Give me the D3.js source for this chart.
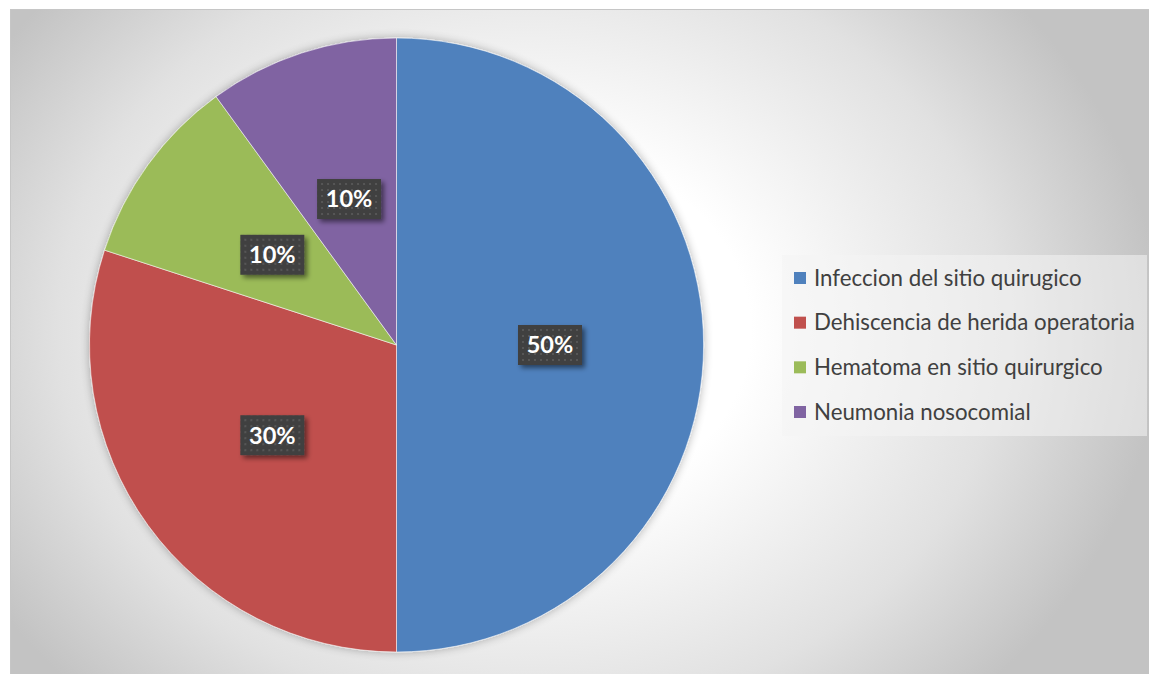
<!DOCTYPE html>
<html>
<head>
<meta charset="utf-8">
<script src="https://cdn.jsdelivr.net/npm/d3@7"></script>
<style>
  html, body { margin: 0; padding: 0; background: #fff; }
  svg { display: block; }
</style>
</head>
<body>
<svg id="chart" width="1149" height="674"></svg>
<script>
// Complications after surgery, share of cases
const categories = [
  "Infeccion del sitio quirugico",
  "Dehiscencia de herida operatoria",
  "Hematoma en sitio quirurgico",
  "Neumonia nosocomial"
];
const values = [50, 30, 10, 10];
const colors = ["#4f81bd", "#c0504d", "#9bbb59", "#8064a2"];

const svg = d3.select("#chart");
const W = 1149, H = 674;

const defs = svg.append("defs");

// Chart area background: light radial fill fading to grey at the edges
const gcx = 530, gcy = 330;
const bg = defs.append("radialGradient")
  .attr("id", "bgGrad")
  .attr("gradientUnits", "userSpaceOnUse")
  .attr("cx", gcx).attr("cy", gcy).attr("r", 630)
  .attr("gradientTransform", `translate(${gcx},${gcy}) scale(1,0.82) translate(${-gcx},${-gcy})`);
[[0, "#ffffff"], [0.35, "#ffffff"], [0.75, "#e1e1e1"], [1, "#c3c3c3"]]
  .forEach(([o, c]) => bg.append("stop").attr("offset", o).attr("stop-color", c));

// Soft shadow around the pie
const pieShadow = defs.append("filter").attr("id", "pieShadow")
  .attr("x", "-10%").attr("y", "-10%").attr("width", "120%").attr("height", "120%");
pieShadow.append("feGaussianBlur").attr("in", "SourceAlpha").attr("stdDeviation", 5).attr("result", "b");
pieShadow.append("feComponentTransfer").attr("in", "b").attr("result", "s")
  .append("feFuncA").attr("type", "linear").attr("slope", 0.3);
const pm = pieShadow.append("feMerge");
pm.append("feMergeNode").attr("in", "s");
pm.append("feMergeNode").attr("in", "SourceGraphic");

// Shadow under the data label boxes
const lblShadow = defs.append("filter").attr("id", "lblShadow")
  .attr("x", "-30%").attr("y", "-30%").attr("width", "160%").attr("height", "160%");
lblShadow.append("feGaussianBlur").attr("in", "SourceAlpha").attr("stdDeviation", 2.5).attr("result", "b");
lblShadow.append("feOffset").attr("in", "b").attr("dx", 3).attr("dy", 3).attr("result", "o");
lblShadow.append("feComponentTransfer").attr("in", "o").attr("result", "s")
  .append("feFuncA").attr("type", "linear").attr("slope", 0.5);
const lm = lblShadow.append("feMerge");
lm.append("feMergeNode").attr("in", "s");
lm.append("feMergeNode").attr("in", "SourceGraphic");

// Dotted dark fill for the data labels
const pat = defs.append("pattern").attr("id", "dots")
  .attr("patternUnits", "userSpaceOnUse").attr("width", 6).attr("height", 6);
pat.append("rect").attr("width", 6).attr("height", 6).attr("fill", "#404040");
pat.append("rect").attr("x", 2).attr("y", 2).attr("width", 2).attr("height", 2).attr("fill", "#575757");

// Background and frame
svg.append("rect")
  .attr("x", 10).attr("y", 9).attr("width", W - 10).attr("height", H - 9)
  .attr("fill", "url(#bgGrad)");
svg.append("rect")
  .attr("x", 10.5).attr("y", 9.5).attr("width", W + 10).attr("height", H + 10)
  .attr("fill", "none").attr("stroke", "#c6c6c6").attr("stroke-width", 1);

// Pie
const cx = 396.5, cy = 345, R = 307;
const pie = d3.pie().sort(null).value(d => d.value);
const arcs = pie(categories.map((c, i) => ({ name: c, value: values[i], color: colors[i] })));
const arc = d3.arc().innerRadius(0).outerRadius(R);
const labelArc = d3.arc().innerRadius(0).outerRadius(R);

const g = svg.append("g").attr("transform", `translate(${cx},${cy})`);
g.append("g").attr("filter", "url(#pieShadow)")
  .selectAll("path").data(arcs).join("path")
  .attr("d", arc)
  .attr("fill", d => d.data.color)
  .attr("stroke", "rgba(255,255,255,0.55)")
  .attr("stroke-width", 1);

// Data labels
const total = d3.sum(values);
const fmt = d3.format(".0%");
const lbl = g.selectAll("g.lbl").data(arcs).join("g")
  .attr("class", "lbl")
  .attr("transform", d => `translate(${labelArc.centroid(d)})`);
const boxW = 64, boxH = 40;
lbl.append("rect")
  .attr("x", -boxW / 2).attr("y", -boxH / 2)
  .attr("width", boxW).attr("height", boxH)
  .attr("fill", "url(#dots)")
  .attr("filter", "url(#lblShadow)");
lbl.append("text")
  .attr("text-anchor", "middle")
  .attr("dy", "0.36em")
  .attr("fill", "#ffffff")
  .attr("font-family", "Lato, 'Open Sans', sans-serif")
  .attr("font-weight", "bold")
  .attr("font-size", 23.5)
  .text(d => fmt(d.data.value / total));

// Legend
const lg = svg.append("g");
lg.append("rect")
  .attr("x", 782).attr("y", 255).attr("width", 365).attr("height", 181)
  .attr("fill", "#f4f4f4").attr("fill-opacity", 0.55);
const rowY = d3.scalePoint().domain(categories).range([278, 412]);
const items = lg.selectAll("g.item").data(categories).join("g")
  .attr("class", "item")
  .attr("transform", d => `translate(0,${rowY(d)})`);
items.append("rect")
  .attr("x", 794).attr("y", -6).attr("width", 12).attr("height", 12)
  .attr("fill", (d, i) => colors[i]);
const legText = items.append("text")
  .attr("x", 814).attr("dy", "0.35em")
  .attr("fill", "#404040")
  .attr("font-family", "Lato, 'Open Sans', sans-serif")
  .attr("font-size", 20)
  .text(d => d);

// Size legend text so the longest entry spans its row width
const longest = d3.max(legText.nodes(), n => n.getComputedTextLength());
legText.attr("font-size", 20 * 321 / longest);
</script>
</body>
</html>
